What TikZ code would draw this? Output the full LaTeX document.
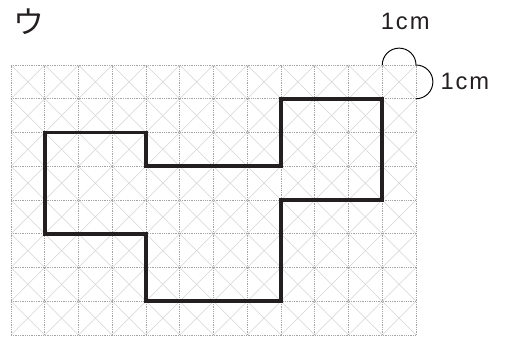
\documentclass[tikz,border=0pt]{standalone}
\usepackage{fontspec}
\setmainfont{Liberation Sans}[LetterSpace=8]
\newfontfamily\cjk{Noto Sans CJK JP}
\definecolor{gridgray}{RGB}{165,165,165}
\definecolor{diaggray}{RGB}{212,212,212}
\definecolor{shapeblack}{RGB}{35,31,32}
\begin{document}
\begin{tikzpicture}[x=1cm,y=1cm,
  gridline/.style={gridgray,line width=0.6pt,dash pattern=on 0.7pt off 0.8pt},
  diagline/.style={diaggray,line width=0.5pt},
  outline/.style={shapeblack,line width=3.3pt,line join=miter},
  arcline/.style={black,line width=0.8pt},
  cmlabel/.style={font=\fontsize{20}{22}\selectfont,inner sep=0pt,text=shapeblack}]
\useasboundingbox (-0.326,-0.03) rectangle (14.696,9.926);
% diagonals
\foreach \i in {0,...,11}{
  \foreach \j in {0,...,7}{
    \draw[diagline] (\i,\j) -- (\i+1,\j+1);
    \draw[diagline] (\i,\j+1) -- (\i+1,\j);
  }
}
% dotted grid
\foreach \i in {0,...,12}{\draw[gridline] (\i,0) -- (\i,8);}
\foreach \j in {0,...,8}{\draw[gridline] (0,\j) -- (12,\j);}
% figure outline
\draw[outline] (1,6) -- (4,6) -- (4,5) -- (8,5) -- (8,7) -- (11,7) -- (11,4) -- (8,4) -- (8,1) -- (4,1) -- (4,3) -- (1,3) -- cycle;
% unit semicircles
\coordinate (a1) at (11,8);
\coordinate (a2) at (12,8);
\draw[arcline] (a1) arc[start angle=180,end angle=0,radius=0.5];
\draw[arcline] (a2) arc[start angle=90,end angle=-90,radius=0.5];
\node[cmlabel] (ltop) at (11.68,9.28) {1cm};
\node[cmlabel,anchor=west] (lright) at (12.72,7.5) {1cm};
\node[font=\cjk\fontsize{26}{28}\selectfont,inner sep=0pt,text=shapeblack] (title) at (0.53,9.28) {ウ};
\end{tikzpicture}
\end{document}
